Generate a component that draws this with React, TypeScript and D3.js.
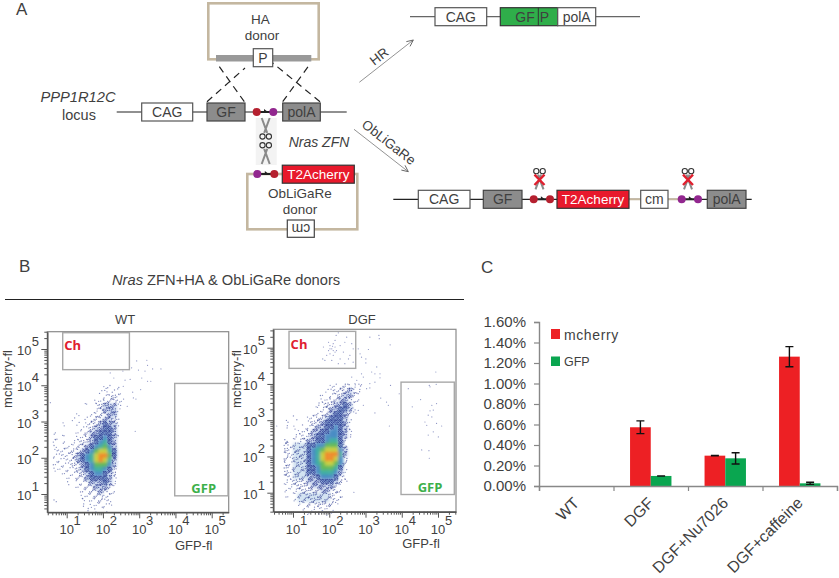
import React, { useEffect, useRef } from 'react'
import * as d3 from 'd3'

// panel C values, fractions in percent
const groups = ['WT', 'DGF', 'DGF+Nu7026', 'DGF+caffeine']
const seriesNames = ['mcherry', 'GFP']
const mcherryValues = [0, 0.573, 0.296, 1.262]
const mcherryErrors = [0, 0.062, 0.001, 0.098]
const gfpValues = [0, 0.098, 0.27, 0.026]
const gfpErrors = [0, 0.001, 0.055, 0.01]
const percentTicks = [0, 0.2, 0.4, 0.6, 0.8, 1.0, 1.2, 1.4, 1.6]

// panel B: estimated density per cell, 8 cells per decade,
// first row starts at 10^4 going down, first column at 10^0.5
// 'a' marks the pale, sparsely binned cells
const wtDensity = [
  '000000000000110100',
  '000000000001101100',
  '000000000000122100',
  '000000000011222110',
  '000000001012333100',
  '000000000012333100',
  '000000100122233000',
  '000001001122332100',
  '000100101223433100',
  '000000011233443000',
  '010000112334443000',
  '010100112344543100',
  '010101122345643000',
  '010111223456753000',
  '011112234578864000',
  '011112345689974000',
  '011112345689863000',
  '011112234577753000',
  '011111234566542000',
  '000111223455432000',
  '000010223444431000',
  '000010112333431000',
  '000000112233321000',
  '000000011223211000',
  '000000011122110000',
  '010000010112110000',
  '000000010111110000',
  '000000001010100000',
]
const dgfDensity = [
  '0000000000001112211',
  '0000000000011122321',
  '0000000000101223321',
  '0000000000112233211',
  '0000000001122334310',
  '0000000001123344310',
  '0000000011223443210',
  '0000100112234443100',
  '0010000122344443100',
  '0010101123344543100',
  '0000011233445543100',
  '0000111234455543100',
  '0020112334456642000',
  '0021aaa445577742000',
  '0021aaa456788853000',
  '0021aaa456899963000',
  '0021aaa456899852000',
  '0021aaa456788752000',
  '0021aaa445777641000',
  '0021aaa445666531000',
  '0021aaa334555421000',
  '0011222333444321000',
  '0011222233333210000',
  '0011122222332210000',
  '00101aaaaaaa2110000',
  '00001aaaaaaa2110000',
  '0000011222222100000',
  '0000001111111000000',
  '0000000111111000000',
]

// single events outside the dense cloud, as [log GFP, log mcherry]
const wtEvents = [
  [2.93, 4.67], [3.21, 4.69], [3.23, 4.55], [2.79, 4.48], [2.98, 4.42], [3.16, 4.39], [3.37, 4.45], [3.6, 4.45],
  [2.55, 4.39], [2.2, 4.34], [3.07, 4.2], [3.23, 4.11], [3.32, 4.11], [2.3, 4.2], [2.61, 4.14], [2.75, 4.16],
  [2.56, 3.97], [3.04, 3.88], [2.82, 3.81], [2.84, 3.65], [2.91, 3.62], [2.67, 3.42], [2.89, 2.73], [0.55, 3.52],
]
const dgfEvents = [
  [2.02, 5.06], [2.11, 5.11], [2.07, 4.97], [1.98, 4.92], [2.16, 5.02], [2.2, 4.92], [2.02, 4.83], [2.11, 4.79],
  [1.93, 4.79], [2.3, 5.06], [2.43, 5.15], [2.48, 5.29], [2.19, 5.34], [2.25, 5.41], [1.84, 5.02], [2.62, 5.11],
  [2.66, 4.97], [2.39, 4.88], [2.57, 4.79], [1.88, 4.65], [2.07, 4.65], [2.25, 4.56], [2.43, 4.56], [2.66, 4.6],
  [2.3, 4.69], [2.16, 5.2], [1.98, 5.15], [1.82, 4.69], [2.53, 4.69], [2.11, 4.92], [2.02, 4.97], [2.16, 4.88],
  [2.09, 5.04], [2.8, 4.97], [2.85, 4.83], [3.12, 5.29], [3.37, 5.34], [3.38, 5.25], [3.68, 5.08], [2.89, 4.74],
  [3.08, 4.95], [3.01, 4.69], [3.01, 4.58], [3.31, 4.47], [3.17, 4.33], [3.26, 4.28], [3.4, 4.28], [2.89, 4.28],
  [2.62, 4.19], [2.76, 4.1], [2.94, 4.19], [3.4, 4.17], [3.26, 4.05], [3.12, 4.01], [2.89, 3.98], [2.71, 4.01],
  [3.69, 3.96], [3.03, 3.87], [3.12, 3.89], [3.42, 3.61], [3.93, 3.73], [3.58, 3.5], [3.63, 3.41], [3.26, 3.2],
  [2.8, 3.27], [2.94, 3.41], [4.76, 3.96], [4.18, 3.87], [4.52, 3.57], [4.29, 3.37], [4.78, 3.92], [4.94, 4.33],
  [4.83, 3.41], [4.87, 3.28], [4.96, 3.46], [4.78, 3.26], [4.73, 3.14], [4.83, 3.09], [4.64, 2.95], [4.69, 2.86],
  [4.96, 2.91], [5.1, 2.84], [4.73, 2.59], [5.01, 2.54], [4.87, 2.68], [4.55, 2.18], [4.75, 2.16], [4.76, 1.95],
  [4.95, 3.99], [2.68, 1.01], [3.66, 2.84], [0.55, 2.84],
]

// gates in decades: [x0, x1, y0, y1]
const chGate = [0.89, 2.73, 4.43, 5.45]
const gfpGate = [3.98, 5.45, 0.95, 4.05]
const decades = [1, 2, 3, 4, 5]

const FONT = '"Liberation Sans", Arial, sans-serif'
const INK = '#3f3f3f'
const TAN = '#c4b7a0'
const RED_BOX = '#e8192c'
const RED_DOT = '#b5202f'
const PURPLE = '#92278f'
const GREY_BOX = '#8c8c8c'
const DOT = '#2f3d92'

const CELLS_PER_DECADE = 8
const stipple = [
  [0.2, 0.3], [0.7, 0.7], [0.75, 0.2], [0.25, 0.8], [0.5, 0.5], [0.05, 0.55],
  [0.55, 0.05], [0.9, 0.45], [0.4, 0.15], [0.1, 0.05], [0.85, 0.9], [0.45, 0.95],
]
const stippleCount = [0, 2, 4, 7, 12]

// pale underlay for the thinner cells, colour ramp for the dense core
const underlay: Record<string, string> = { a: '#d3e3f2', '3': '#c9d6ee', '4': '#8fb0da' }
const heat = d3.scaleLinear<string>()
  .domain([5, 6, 7, 8, 9])
  .range(['#4a8cc4', '#3fb0a0', '#62b95a', '#c8d040', '#ef8a2a'])

const minorTicks: number[] = []
for (let e = 0; e < 6; e++) for (let m = 1; m < 10; m++) minorTicks.push(m * 10 ** e)

function ScatterPanel ({ left, right, top, bottom, x10, y10, title, titleX, density, events, yLabelX, xLabelY }: any) {
  const axisX = useRef<SVGGElement>(null)
  const axisY = useRef<SVGGElement>(null)

  // domains are set so that 10^1 and 10^5 land on the picture's tick positions
  const pxDecade = 36.25
  const xScale = d3.scaleLog()
    .domain([10 ** (1 + (left - x10) / pxDecade), 10 ** (1 + (right - x10) / pxDecade)])
    .range([left, right])
  const yScale = d3.scaleLog()
    .domain([10 ** (1 + (y10 - bottom) / pxDecade), 10 ** (1 + (y10 - top) / pxDecade)])
    .range([bottom, top])

  useEffect(() => {
    const inX = minorTicks.filter(t => t >= xScale.domain()[0] && t <= xScale.domain()[1])
    const inY = minorTicks.filter(t => t >= yScale.domain()[0] && t <= yScale.domain()[1])
    const size = (t: number) => (Math.abs(Math.log10(t) - Math.round(Math.log10(t))) < 1e-6 ? 6 : 3)

    const gx = d3.select(axisX.current)
    gx.call(d3.axisBottom(xScale).tickValues(inX).tickFormat(() => '').tickSizeOuter(0) as any)
    gx.selectAll('.tick line').attr('y2', (t: any) => size(t)).attr('stroke', '#555')
    gx.select('.domain').attr('stroke', '#555').attr('stroke-width', 1.5)

    const gy = d3.select(axisY.current)
    gy.call(d3.axisLeft(yScale).tickValues(inY).tickFormat(() => '').tickSizeOuter(0) as any)
    gy.selectAll('.tick line').attr('x2', (t: any) => -size(t)).attr('stroke', '#555')
    gy.select('.domain').attr('stroke', '#555').attr('stroke-width', 1.5)
  }, [])

  const lx = (v: number) => xScale(10 ** v)
  const ly = (v: number) => yScale(10 ** v)
  const cell = 1 / CELLS_PER_DECADE

  const solids: React.ReactNode[] = []
  const dots: React.ReactNode[] = []
  density.forEach((row: string, j: number) => {
    row.split('').forEach((ch, i) => {
      if (ch === '0') return
      const level = ch === 'a' ? 2 : +ch
      const x0 = 0.5 + i * cell
      const y1 = 4 - j * cell
      const fill = level >= 5 ? heat(level) : underlay[ch]
      if (fill) {
        solids.push(
          <rect key={`${i}-${j}`} x={lx(x0)} y={ly(y1)} width={lx(x0 + cell) - lx(x0) + 0.4}
            height={ly(y1 - cell) - ly(y1) + 0.4} fill={fill} />
        )
      }
      if (level < 5) {
        // the pattern is turned per cell so the dots do not line up in a lattice
        const turn = (i * 5 + j * 7) % stipple.length
        for (let k = 0; k < stippleCount[level]; k++) {
          const [fx, fy] = stipple[(k + turn) % stipple.length]
          dots.push(
            <circle key={`${i}-${j}-${k}`} cx={lx(x0 + fx * cell)} cy={ly(y1 - fy * cell)} r={0.65}
              fill={DOT} opacity={0.5 + level * 0.1} />
          )
        }
      }
    })
  })

  return (
    <g fontFamily={FONT} fill={INK}>
      <text x={titleX} y={324} fontSize={13} textAnchor="middle">{title}</text>
      <g filter="url(#cloud)">{solids}</g>
      <g filter="url(#soft)">
        {dots}
        {events.map(([a, b]: number[], k: number) => (
          <circle key={k} cx={lx(a)} cy={ly(b)} r={0.6} fill={DOT} opacity={0.55} />
        ))}
      </g>
      <rect x={left} y={top} width={right - left} height={bottom - top} fill="none" stroke="#8a8a8a" strokeWidth={1.2} />
      <g ref={axisX} transform={`translate(0,${bottom})`} />
      <g ref={axisY} transform={`translate(${left},0)`} />

      <rect x={lx(chGate[0])} y={ly(chGate[3])} width={lx(chGate[1]) - lx(chGate[0])} height={ly(chGate[2]) - ly(chGate[3])}
        fill="none" stroke="#a8a8a8" strokeWidth={1.4} />
      <rect x={lx(gfpGate[0])} y={ly(gfpGate[3])} width={lx(gfpGate[1]) - lx(gfpGate[0])} height={ly(gfpGate[2]) - ly(gfpGate[3])}
        fill="none" stroke="#a8a8a8" strokeWidth={1.4} />
      <text x={lx(chGate[0]) + 10} y={ly(5) + 1} fontSize={13} fontWeight="bold" fill="#e0202f" textAnchor="middle"
        fontFamily='"Open Sans", sans-serif'>Ch</text>
      <text x={lx(gfpGate[0]) + 29} y={ly(1) - 1} fontSize={13} fontWeight="bold" fill="#3cb04a" textAnchor="middle"
        fontFamily='"Open Sans", sans-serif'>GFP</text>

      {decades.map(d => (
        <g key={d} fontSize={13}>
          <text x={lx(d)} y={bottom + 22} textAnchor="middle">10</text>
          <text x={lx(d) + 10.5} y={bottom + 13} textAnchor="middle">{d}</text>
          <text x={left - 23} y={ly(d) + 6} textAnchor="middle">10</text>
          <text x={left - 12} y={ly(d) - 3} textAnchor="middle">{d}</text>
        </g>
      ))}
      <text x={right - 35} y={xLabelY} fontSize={13} textAnchor="middle">GFP-fl</text>
      <text transform={`translate(${yLabelX},379) rotate(-90)`} fontSize={13} textAnchor="middle">mcherry-fl</text>
    </g>
  )
}

function BarPanel () {
  const axisX = useRef<SVGGElement>(null)
  const axisY = useRef<SVGGElement>(null)

  const x0 = d3.scaleBand().domain(groups).range([539, 837]).paddingInner(0).paddingOuter(0)
  const x1 = d3.scaleBand().domain(seriesNames).range([0, 41.4])
  const y = d3.scaleLinear().domain([0, 1.6]).range([486, 322])
  const offset = (x0.bandwidth() - 41.4) / 2

  useEffect(() => {
    const gy = d3.select(axisY.current)
    gy.call(d3.axisLeft(y).tickValues(percentTicks).tickSize(5).tickPadding(8).tickFormat(d => `${(+d).toFixed(2)}%`) as any)
    gy.selectAll('.tick line').attr('stroke', '#888').attr('stroke-width', 1.2)
    gy.select('.domain').attr('stroke', '#888').attr('stroke-width', 1.4)
    gy.selectAll('text').attr('font-family', FONT).attr('font-size', 15).attr('fill', INK)

    const gx = d3.select(axisX.current)
    const edges = d3.axisBottom(d3.scaleLinear().domain([539, 837]).range([539, 837]))
      .tickValues(groups.map(g => x0(g) as number).concat(837)).tickSize(5).tickFormat(() => '')
    gx.call(edges as any)
    gx.selectAll('.tick line').attr('stroke', '#888').attr('stroke-width', 1.2)
    gx.select('.domain').attr('stroke', '#888').attr('stroke-width', 1.4)
  }, [])

  const series = [
    { name: 'mcherry', fill: '#ed2024', values: mcherryValues, errors: mcherryErrors },
    { name: 'GFP', fill: '#0aa650', values: gfpValues, errors: gfpErrors },
  ]

  return (
    <g fontFamily={FONT} fill={INK}>
      {series.map(s => groups.map((g, i) => {
        if (!s.values[i]) return null
        const bx = (x0(g) as number) + offset + (x1(s.name) as number)
        const cx = bx + x1.bandwidth() / 2
        return (
          <g key={s.name + g}>
            <rect x={bx} y={y(s.values[i])} width={x1.bandwidth()} height={y(0) - y(s.values[i])} fill={s.fill} />
            <path d={`M${cx - 4},${y(s.values[i] + s.errors[i])}h8M${cx},${y(s.values[i] + s.errors[i])}V${y(s.values[i] - s.errors[i])}M${cx - 4},${y(s.values[i] - s.errors[i])}h8`}
              stroke="#111" strokeWidth={1.4} fill="none" />
          </g>
        )
      }))}
      <g ref={axisX} transform={`translate(0,${y(0)})`} />
      <g ref={axisY} transform="translate(539,0)" />
      {groups.map(g => (
        <text key={g} transform={`translate(${(x0(g) as number) + x0.bandwidth() / 2 + 4},504) rotate(-45)`}
          fontSize={16} textAnchor="end">{g}</text>
      ))}
      <rect x={551} y={329} width={9} height={10} fill="#ed2024" />
      <text x={564} y={339.5} fontSize={14} letterSpacing={0.6}>{seriesNames[0]}</text>
      <rect x={551} y={356.5} width={9} height={9.5} fill="#0aa650" />
      <text x={564} y={366} fontSize={12.5}>{seriesNames[1]}</text>
    </g>
  )
}

function Box ({ x, x2, cy, h = 18, fill = '#fff', label, color = INK, size = 14, stroke = '#555' }: any) {
  return (
    <g>
      <rect x={x} y={cy - h / 2} width={x2 - x} height={h} fill={fill} stroke={stroke} strokeWidth={1.2} />
      <text x={(x + x2) / 2} y={cy + 5} fontSize={size} textAnchor="middle" fill={color}>{label}</text>
    </g>
  )
}

function Site ({ x0, x1, cy, left, right }: any) {
  return (
    <g>
      <path d={`M${x0},${cy}H${x1}`} stroke="#222" strokeWidth={2} />
      <path d={`M${(x0 + x1) / 2 - 1},${cy - 3}l4,3h-4z`} fill="#222" />
      <circle cx={x0} cy={cy} r={4} fill={left} />
      <circle cx={x1} cy={cy} r={4} fill={right} />
    </g>
  )
}

// handles sit at the bottom when dir is 1, at the top when dir is -1
function Scissors ({ cx, y0, y1, dir, crossed }: any) {
  const h = y1 - y0
  const ty = dir === 1 ? y0 : y1
  const p = (t: number) => ty + dir * t * h
  return (
    <g>
      <path d={`M${cx - 4},${p(0)}L${cx + 1.5},${p(0.68)}M${cx + 4},${p(0)}L${cx - 1.5},${p(0.68)}`} stroke="#8a8a8a" strokeWidth={2} fill="none" />
      <circle cx={cx - 3.2} cy={p(0.84)} r={2.6} fill="none" stroke="#333" strokeWidth={1.1} />
      <circle cx={cx + 3.2} cy={p(0.84)} r={2.6} fill="none" stroke="#333" strokeWidth={1.1} />
      {crossed && (
        <path d={`M${cx - 5},${p(0.2)}L${cx + 5},${p(0.68)}M${cx + 5},${p(0.2)}L${cx - 5},${p(0.68)}`} stroke="#e0202f" strokeWidth={2.4} />
      )}
    </g>
  )
}

function SchemePanel () {
  const locusY = 112
  const hrY = 16.7
  const obY = 199.3
  const dash = { stroke: '#222', strokeWidth: 1.2, strokeDasharray: '7 5', fill: 'none' }
  return (
    <g fontFamily={FONT} fill={INK}>
      {/* HA donor */}
      <rect x={208.3} y={3.3} width={110.4} height={56} fill="none" stroke={TAN} strokeWidth={2.6} />
      <rect x={216} y={55} width={37} height={6.5} fill="#999" />
      <rect x={272.7} y={55} width={38.6} height={6.5} fill="#999" />
      <text x={260.5} y={24} fontSize={13.5} textAnchor="middle">HA</text>
      <text x={262} y={40} fontSize={13.5} textAnchor="middle">donor</text>
      <path d={`M207,101.7L245,68M244.3,101.7L216.7,63M282.7,101.7L310.7,63M320,101.7L272.7,63`} {...dash} />
      <Box x={253.3} x2={272.7} cy={57.7} label="P" />

      {/* locus */}
      <text x={78} y={102} fontSize={14.7} fontStyle="italic" textAnchor="middle">PPP1R12C</text>
      <text x={79} y={120} fontSize={14.5} textAnchor="middle">locus</text>
      <path d={`M116.7,${locusY}H346.7`} stroke="#222" strokeWidth={1.2} />
      <Box x={141.7} x2={192.7} cy={locusY} label="CAG" />
      <Box x={207} x2={245} cy={locusY} fill={GREY_BOX} label="GF" stroke="#444" />
      <Box x={282.7} x2={320.3} cy={locusY} fill={GREY_BOX} label="polA" stroke="#444" />
      <Site x0={256.7} x1={273.3} cy={locusY} left={RED_DOT} right={PURPLE} />

      {/* cutting */}
      <rect x={255.7} y={118} width={21} height={47} fill="#f3f3f3" />
      <Scissors cx={265.7} y0={118} y1={140} dir={1} />
      <Scissors cx={265.7} y0={141.7} y1={164} dir={-1} />
      <text x={319} y={147} fontSize={14} fontStyle="italic" textAnchor="middle">Nras ZFN</text>

      {/* ObLiGaRe donor */}
      <rect x={247.3} y={174} width={110} height={55.3} fill="none" stroke={TAN} strokeWidth={2.6} />
      <Site x0={257.3} x1={274.3} cy={174} left={PURPLE} right={RED_DOT} />
      <Box x={282.3} x2={354.3} cy={174.2} fill={RED_BOX} label="T2Acherry" color="#fff" stroke="#333" size={13.5} />
      <text x={300} y={198} fontSize={13.5} textAnchor="middle">ObLiGaRe</text>
      <text x={300} y={214} fontSize={13.5} textAnchor="middle">donor</text>
      <rect x={287.3} y={220} width={27} height={17.3} fill="#fff" stroke="#444" strokeWidth={1.2} />
      <text transform="translate(301,229) rotate(180)" y={5} fontSize={14} textAnchor="middle">cm</text>

      {/* arrows */}
      <path d="M359.3,82.3L413.3,40" stroke="#777" strokeWidth={0.8} fill="none" markerEnd="url(#head)" />
      <path d="M354,129.3L408.3,171.7" stroke="#777" strokeWidth={0.8} fill="none" markerEnd="url(#head)" />
      <text transform="translate(382,60) rotate(-38)" fontSize={13.5} textAnchor="middle">HR</text>
      <text transform="translate(386,146) rotate(38)" fontSize={13.5} textAnchor="middle">ObLiGaRe</text>

      {/* HR product */}
      <path d={`M410,${hrY}H640`} stroke="#666" strokeWidth={1.2} />
      <Box x={435} x2={486.7} cy={hrY} label="CAG" />
      <rect x={500.3} y={hrY - 9} width={57.4} height={18} fill="#2fae4a" stroke="#333" strokeWidth={1.2} />
      <path d={`M538.3,${hrY - 9}V${hrY + 9}`} stroke="#333" strokeWidth={1} />
      <text x={525} y={hrY + 5} fontSize={14} textAnchor="middle">GF</text>
      <text x={544.5} y={hrY + 5} fontSize={14} textAnchor="middle">P</text>
      <Box x={557.7} x2={595.7} cy={hrY} label="polA" />

      {/* ObLiGaRe product */}
      <path d={`M393.3,${obY}H751.7`} stroke="#222" strokeWidth={1.2} />
      <path d={`M629,${obY}H678`} stroke={TAN} strokeWidth={2} />
      <Box x={418.3} x2={470} cy={obY} label="CAG" />
      <Box x={483.3} x2={522} cy={obY} fill={GREY_BOX} label="GF" stroke="#444" />
      <Site x0={533.7} x1={550} cy={obY} left={RED_DOT} right={RED_DOT} />
      <Box x={557} x2={629} cy={obY} fill={RED_BOX} label="T2Acherry" color="#fff" stroke="#333" size={13.5} />
      <Box x={640.7} x2={668} cy={obY} label="cm" />
      <Site x0={681.7} x1={698} cy={obY} left={PURPLE} right={PURPLE} />
      <Box x={707.3} x2={746} cy={obY} fill={GREY_BOX} label="polA" stroke="#444" />
      <Scissors cx={539.5} y0={167.7} y1={189.3} dir={-1} crossed />
      <Scissors cx={688} y0={167.7} y1={189.3} dir={-1} crossed />
    </g>
  )
}

export default function App () {
  return (
    <svg width={839} height={578} style={{ position: 'absolute', left: 0, top: 0, background: '#fff' }}>
      <defs>
        <filter id="soft" x="-5%" y="-5%" width="110%" height="110%">
          <feGaussianBlur stdDeviation="0.3" />
        </filter>
        <filter id="cloud" x="-10%" y="-10%" width="120%" height="120%">
          <feGaussianBlur stdDeviation="1.6" />
        </filter>
        <marker id="head" viewBox="0 0 8 8" refX="7.5" refY="4" markerWidth="8" markerHeight="8" orient="auto" markerUnits="userSpaceOnUse">
          <path d="M1,1L7.5,4L1,7" fill="none" stroke="#666" strokeWidth="0.9" />
        </marker>
      </defs>

      <g fontFamily={FONT} fontSize={17} fill={INK}>
        <text x={16} y={15}>A</text>
        <text x={19} y={272}>B</text>
        <text x={481} y={273}>C</text>
      </g>

      <SchemePanel />

      <text x={112} y={285} fontFamily={FONT} fontSize={14.7} fill={INK}>
        <tspan fontStyle="italic">Nras</tspan> ZFN+HA &amp; ObLiGaRe donors
      </text>
      <path d="M5,299.5H464" stroke="#222" strokeWidth={1.2} />

      <ScatterPanel left={47.3} right={228.7} top={331.7} bottom={512.3} x10={66.7} y10={494}
        title="WT" titleX={125} density={wtDensity} events={wtEvents} yLabelX={12} xLabelY={550} />
      <ScatterPanel left={273.3} right={456} top={329.3} bottom={511.7} x10={293} y10={492.7}
        title="DGF" titleX={362} density={dgfDensity} events={dgfEvents} yLabelX={241} xLabelY={548} />

      <BarPanel />
    </svg>
  )
}
